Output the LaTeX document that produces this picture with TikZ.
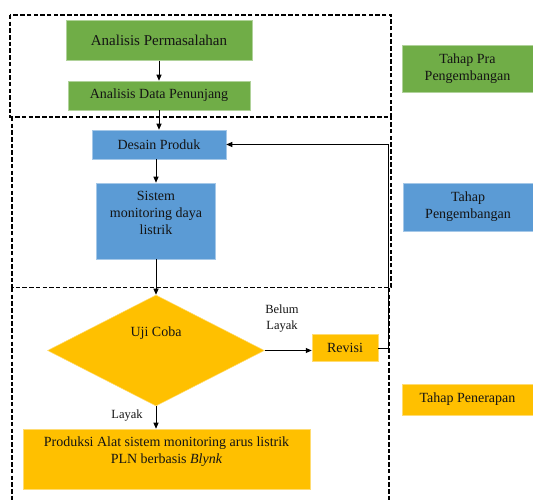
\documentclass[tikz,border=0pt]{standalone}
\usepackage{fontspec}
\setmainfont{Liberation Serif}
\usepackage{tikz}
\usetikzlibrary{shapes.geometric, arrows.meta, positioning}
\definecolor{stagegreen}{RGB}{112, 173, 71}
\definecolor{stageblue}{RGB}{91, 155, 213}
\definecolor{stagegold}{RGB}{255, 192, 0}
\definecolor{textdark}{RGB}{20, 20, 20}

\tikzset{
    stagebox/.style={inner sep=0pt, align=center, text=textdark, line width=0.5pt, font=\fontsize{14}{17}\selectfont},
    greenbox/.style={stagebox, fill=stagegreen, draw=stagegreen!55!white},
    bluebox/.style={stagebox, fill=stageblue, draw=stageblue!55!white},
    goldbox/.style={stagebox, fill=stagegold, draw=stagegold!55!white},
    frame/.style={draw=black, line width=1.6pt, dash pattern=on 4.5pt off 2.2pt},
    flow/.style={draw=black, line width=0.9pt, -{Triangle[length=6pt, width=5pt]}},
    notelabel/.style={inner sep=0pt, align=center, text=textdark, font=\fontsize{12.5}{16}\selectfont}
}

\begin{document}
\begin{tikzpicture}[x=1pt, y=-1pt]
    \useasboundingbox (0,0) rectangle (533,502);

    % Stage frames
    \draw[frame] (10,15) rectangle (391,117);
    \draw[frame] (12,117) -- (12,287.5) -- (391,287.5) -- (391,117);
    \draw[frame] (12,288) -- (12,530);
    \draw[frame] (389,288) -- (389,530);

    % Tahap pra pengembangan
    \node[greenbox, minimum width=186, minimum height=40, font=\fontsize{15}{18}\selectfont] (masalah) at (159,40.5) {Analisis Permasalahan};
    \node[greenbox, minimum width=182, minimum height=29] (penunjang) at (159,95.5) {Analisis Data Penunjang};

    % Tahap pengembangan
    \node[bluebox, minimum width=134, minimum height=29] (desain) at (159,144.5) {Desain Produk};
    \node[bluebox, minimum width=119, minimum height=76] (sistem) at (156,221) {Sistem\\monitoring daya\\listrik\\\mbox{}};

    % Tahap penerapan
    \node[goldbox, shape=diamond, minimum width=217, minimum height=111] (uji) at (156,350.5) {};
    \node[stagebox] (ujitext) at (156,333) {Uji Coba};
    \node[goldbox, minimum width=66, minimum height=27] (revisi) at (345,348) {Revisi};
    \node[goldbox, minimum width=287, minimum height=60] (produksi) at (166.5,459) {Produksi Alat sistem monitoring arus listrik\\PLN berbasis \textit{Blynk}\\\mbox{}};

    % Decision labels
    \node[notelabel] (belum) at (282,319) {Belum\\Layak};
    \node[notelabel] (layak) at (127,416) {Layak};

    % Stage legend
    \node[greenbox, minimum width=131, minimum height=47] (pra) at (467.5,68.5) {Tahap Pra\\Pengembangan};
    \node[bluebox, minimum width=130, minimum height=48] (kembang) at (468,207) {Tahap\\Pengembangan};
    \node[goldbox, minimum width=131, minimum height=31] (terap) at (467.5,399.5) {Tahap Penerapan};

    % Arrows
    \coordinate (balik) at (388,0);
    \draw[flow] (masalah) -- (penunjang);
    \draw[flow] (penunjang) -- (desain);
    \draw[flow] (desain.south -| sistem) -- (sistem.north);
    \draw[flow] (sistem) -- (uji);
    \draw[flow] (uji.east) -- (uji.east -| revisi.west);
    \draw[flow] (uji.south) -- (uji.south |- produksi.north);
    \draw[flow] (revisi.east) -- (revisi.east -| balik) -- (desain.east -| balik) -- (desain.east);
\end{tikzpicture}
\end{document}
